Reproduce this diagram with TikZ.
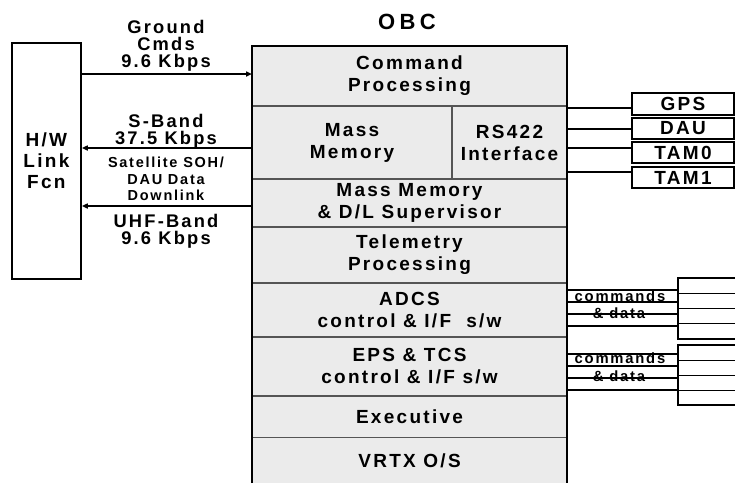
\documentclass[tikz,border=0pt]{standalone}
\usepackage{fontspec}
\setmainfont{Liberation Sans}[LetterSpace=12]
\usetikzlibrary{calc,arrows.meta}
\definecolor{obcgray}{RGB}{235,235,235}
\definecolor{divgray}{RGB}{85,85,85}
\begin{document}
\begin{tikzpicture}[x=1pt,y=-1pt,
  lbl/.style={font=\fontsize{19}{22}\selectfont\bfseries, align=center, inner sep=0pt},
  arrlbl/.style={font=\fontsize{18.3}{17}\selectfont\bfseries, align=center, inner sep=0pt},
  smalllbl/.style={font=\fontsize{14.5}{16.5}\selectfont\bfseries, align=center, inner sep=0pt},
  tinylbl/.style={font=\fontsize{14.8}{16}\selectfont\bfseries, align=center, inner sep=0pt},
  row/.style={lbl, fill=obcgray, draw=divgray, line width=1.2pt, outer sep=0pt, anchor=north west},
  devbox/.style={lbl, draw=black, line width=1.2pt, outer sep=0pt},
  plainbox/.style={draw=black, line width=1.2pt, inner sep=0pt, outer sep=0pt},
  arr/.style={line width=1.5pt, -{Triangle[length=6pt,width=5pt]}},
  busline/.style={line width=2.6pt},
  cdline/.style={line width=1.6pt},
  divline/.style={line width=0.9pt, draw=divgray}
]
\useasboundingbox (0,0) rectangle (735,483);

% OBC rows
\node[row, minimum width=315pt, minimum height=60pt] (cmd) at (252,46) {Command\\Processing};
\node[row, minimum width=200pt, minimum height=73pt] (mm) at (252,106) {Mass\\Memory};
\node[row, minimum width=115pt, minimum height=73pt] (rs) at (452,106) {RS422\\Interface};
\node[row, minimum width=315pt, minimum height=48pt] (mmdl) at (252,179) {Mass Memory\\\& D/L Supervisor};
\node[row, minimum width=315pt, minimum height=56pt] (tlm) at (252,227) {Telemetry\\Processing};
\node[row, minimum width=315pt, minimum height=54pt] (adcs) at (252,283) {ADCS\\control \& I/F~ s/w};
\node[row, minimum width=315pt, minimum height=59pt] (eps) at (252,337) {EPS \& TCS\\control \& I/F s/w};
\node[row, minimum width=315pt, minimum height=42pt] (exe) at (252,396) {Executive};
\node[row, draw=none, minimum width=315pt, minimum height=45pt] (vrtx) at (252,438) {VRTX O/S};

% OBC outer border
\draw[line width=2.4pt] (vrtx.south west) -- (cmd.north west) -- (cmd.north east) -- (vrtx.south east);

% title
\node[lbl, font=\fontsize{22}{22}\selectfont\bfseries\addfontfeatures{LetterSpace=20}] (obc) at (407,22) {OBC};

% H/W link box
\node[lbl, draw=black, line width=1.8pt, minimum width=69pt, minimum height=236pt, anchor=north west, font=\fontsize{19}{21}\selectfont\bfseries] (hw) at (11,42) {H/W\\Link\\Fcn};

% arrows
\draw[arr] ($(hw.east|-cmd.west)+(0,-2)$) -- ($(cmd.west)+(0,-2)$);
\draw[arr] ($(mm.west)+(0,5.5)$) -- ($(hw.east|-mm.west)+(0,5.5)$);
\draw[arr] ($(mmdl.west)+(0,3)$) -- ($(hw.east|-mmdl.west)+(0,3)$);

% arrow labels
\node[arrlbl] (gclbl) at (166,46) {Ground\\Cmds\\9.6 Kbps};
\node[arrlbl] (sblbl) at (166,131) {S-Band\\37.5 Kbps};
\node[smalllbl] (sohlbl) at (166,179) {Satellite SOH/\\DAU Data\\Downlink};
\node[arrlbl] (uhflbl) at (166,231) {UHF-Band\\9.6 Kbps};

% RS422 devices
\node[devbox, minimum width=102pt, minimum height=22pt] (gps) at (683,104) {GPS};
\node[devbox, minimum width=102pt, minimum height=21pt] (dau) at (683,128.5) {DAU};
\node[devbox, minimum width=102pt, minimum height=21pt] (tam0) at (683,152.5) {TAM0};
\node[devbox, minimum width=102pt, minimum height=21pt] (tam1) at (683,177.5) {TAM1};

\draw[busline] ($(rs.east|-gps.west)+(0,4)$) -- ($(gps.west)+(0,4)$);
\draw[busline] ($(rs.east|-dau.west)+(0,0.5)$) -- ($(dau.west)+(0,0.5)$);
\draw[busline] ($(rs.east|-tam0.west)+(0,-4.5)$) -- ($(tam0.west)+(0,-4.5)$);
\draw[busline] ($(rs.east|-tam1.west)+(0,-5.5)$) -- ($(tam1.west)+(0,-5.5)$);

% ADCS / EPS peripheral boxes
\node[plainbox, minimum width=62pt, minimum height=61pt] (adcsdev) at (709,308.5) {};
\node[plainbox, minimum width=62pt, minimum height=60pt] (epsdev) at (709,375) {};
\foreach \d in {-15.25,0,15.25} {
  \draw[line width=1pt] ($(adcsdev.west)+(0,\d)$) -- ($(adcsdev.east)+(0,\d)$);
}
\foreach \d in {-15,0,15} {
  \draw[line width=1pt] ($(epsdev.west)+(0,\d)$) -- ($(epsdev.east)+(0,\d)$);
}

% labels
\node[tinylbl] (cd1a) at (620,296) {commands};
\node[tinylbl] (cd1b) at (619,313) {\& data};
\node[tinylbl] (cd2a) at (620,358) {commands};
\node[tinylbl] (cd2b) at (619,376) {\& data};

% command & data lines
\foreach \d in {-18.5,-6.5,5.5,17.5} {
  \draw[cdline] ($(adcs.east|-adcsdev.west)+(0,\d)$) -- ($(adcsdev.west)+(0,\d)$);
}
\foreach \d in {-21,-9,3,15} {
  \draw[cdline] ($(eps.east|-epsdev.west)+(0,\d)$) -- ($(epsdev.west)+(0,\d)$);
}
\end{tikzpicture}
\end{document}
